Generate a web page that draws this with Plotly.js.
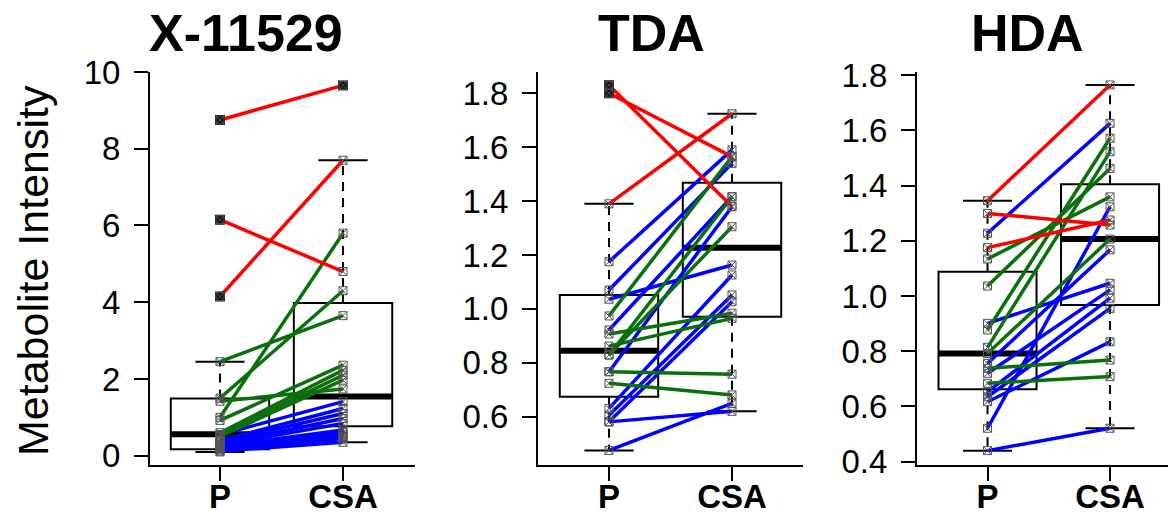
<!DOCTYPE html>
<html><head><meta charset="utf-8">
<script src="https://cdn.plot.ly/plotly-3.0.1.min.js"></script>
<style>html,body{margin:0;padding:0;background:#fff;overflow:hidden}</style>
</head><body><div id="chart" style="width:1168px;height:515px"></div>
<script>
// ---------- data ----------
const categories = ['P', 'CSA'];
const panelTitles = ['X-11529', 'TDA', 'HDA'];
const yAxisLabel = 'Metabolite Intensity';

// X-11529 paired values (P -> CSA) and group colour per subject
const x11529_P     = [8.75, 6.15, 4.15, 2.45, 1.50, 1.42, 1.00, 0.92, 0.60, 0.55, 0.50, 0.55, 0.40, 0.35, 0.30, 0.28, 0.25, 0.20, 0.18, 0.15, 0.12, 0.10];
const x11529_CSA   = [9.65, 4.80, 7.70, 3.65, 4.30, 1.74, 5.80, 2.36, 2.23, 2.10, 1.97, 1.41, 1.23, 1.10, 0.97, 0.84, 0.67, 0.60, 0.54, 0.45, 0.35, 0.50];
const x11529_group = ['red','red','red','green','green','green','green','green','green','green','green','blue','blue','blue','blue','blue','blue','blue','blue','blue','blue','blue'];
const x11529_q1 = [0.17, 0.77];
const x11529_median = [0.56, 1.54];
const x11529_q3 = [1.49, 3.98];
const x11529_lowerWhisker = [0.10, 0.35];
const x11529_upperWhisker = [2.45, 7.70];

// TDA
const tda_P     = [1.83, 1.80, 1.39, 1.175, 1.07, 1.036, 0.922, 0.767, 0.631, 0.606, 0.581, 0.581, 0.475, 0.974, 0.907, 0.862, 0.829, 0.829, 0.767, 0.724];
const tda_CSA   = [1.38, 1.565, 1.724, 1.59, 1.54, 1.163, 1.416, 1.379, 1.126, 1.052, 1.027, 0.62, 0.65, 1.565, 0.984, 0.965, 1.305, 1.416, 0.758, 0.681];
const tda_group = ['red','red','red','blue','blue','blue','blue','blue','blue','blue','blue','blue','blue','green','green','green','green','green','green','green'];
const tda_q1 = [0.674, 0.971];
const tda_median = [0.845, 1.227];
const tda_q3 = [1.052, 1.468];
const tda_lowerWhisker = [0.475, 0.62];
const tda_upperWhisker = [1.39, 1.724];

// HDA
const hda_P     = [1.345, 1.299, 1.175, 1.227, 0.901, 0.756, 0.720, 0.653, 0.635, 0.617, 0.521, 0.44, 1.134, 1.036, 0.877, 0.814, 0.792, 0.738, 0.684];
const hda_CSA   = [1.764, 1.257, 1.275, 1.625, 1.046, 1.167, 1.022, 0.992, 0.955, 0.834, 1.323, 0.521, 1.359, 1.462, 1.571, 1.522, 1.206, 0.768, 0.708];
const hda_group = ['red','red','red','blue','blue','blue','blue','blue','blue','blue','blue','blue','green','green','green','green','green','green','green'];
const hda_q1 = [0.662, 0.967];
const hda_median = [0.792, 1.206];
const hda_q3 = [1.088, 1.405];
const hda_lowerWhisker = [0.44, 0.521];
const hda_upperWhisker = [1.345, 1.764];

const yTicks1 = [0, 2, 4, 6, 8, 10];
const yTicks2 = [0.6, 0.8, 1.0, 1.2, 1.4, 1.6, 1.8];
const yTicks3 = [0.4, 0.6, 0.8, 1.0, 1.2, 1.4, 1.6, 1.8];

// ---------- styling ----------
const W = 1168, H = 515;
const lineColors = { red: '#ff0000', green: '#0a700a', blue: '#0000ff' };
const drawOrder = ['blue', 'green', 'red'];
const FONT = 'Liberation Sans, Arial, Helvetica, sans-serif';
const POS = [1, 2];
const BOXW = 0.8, CAPW = 0.4;

const panels = [
  { P: x11529_P, C: x11529_CSA, g: x11529_group, q1: x11529_q1, med: x11529_median, q3: x11529_q3, lw: x11529_lowerWhisker, uw: x11529_upperWhisker,
    px: [150, 415], xr: [0.431, 2.585], yr: [-0.242, 10.0], ticks: yTicks1, fmt: 'd', tx: 246 },
  { P: tda_P, C: tda_CSA, g: tda_group, q1: tda_q1, med: tda_median, q3: tda_q3, lw: tda_lowerWhisker, uw: tda_upperWhisker,
    px: [538, 803], xr: [0.423, 2.577], yr: [0.421, 1.879], ticks: yTicks2, fmt: '.1f', tx: 651 },
  { P: hda_P, C: hda_CSA, g: hda_group, q1: hda_q1, med: hda_median, q3: hda_q3, lw: hda_lowerWhisker, uw: hda_upperWhisker,
    px: [917, 1168], xr: [0.4245, 2.473], yr: [0.388, 1.811], ticks: yTicks3, fmt: '.1f', tx: 1027 }
];

const traces = [];
const layout = {
  width: W, height: H, margin: { l: 0, r: 0, t: 72, b: 50 },
  paper_bgcolor: '#fff', plot_bgcolor: 'rgba(0,0,0,0)', showlegend: false,
  font: { family: FONT, color: '#000' },
  annotations: []
};

panels.forEach((p, i) => {
  const n = i + 1;
  const xa = 'x' + (n === 1 ? '' : n), ya = 'y' + (n === 1 ? '' : n);
  const axX = 'xaxis' + (n === 1 ? '' : n), axY = 'yaxis' + (n === 1 ? '' : n);

  // box body
  traces.push({
    type: 'box', x: POS, q1: p.q1, median: p.med, q3: p.q3, lowerfence: p.q1, upperfence: p.q3,
    width: BOXW, whiskerwidth: 0, boxpoints: false, line: { color: '#000', width: 2 },
    fillcolor: 'rgba(255,255,255,0)', xaxis: xa, yaxis: ya, hoverinfo: 'skip'
  });
  // whiskers (dashed), caps, thick median
  const wx = [], wy = [], cx = [], cy = [], mx = [], my = [];
  POS.forEach((x, k) => {
    wx.push(x, x, null, x, x, null); wy.push(p.q3[k], p.uw[k], null, p.q1[k], p.lw[k], null);
    cx.push(x - CAPW / 2, x + CAPW / 2, null, x - CAPW / 2, x + CAPW / 2, null); cy.push(p.uw[k], p.uw[k], null, p.lw[k], p.lw[k], null);
    mx.push(x - BOXW / 2, x + BOXW / 2, null); my.push(p.med[k], p.med[k], null);
  });
  traces.push({ type: 'scatter', mode: 'lines', x: wx, y: wy, line: { color: '#000', width: 2, dash: '9px,7px' }, xaxis: xa, yaxis: ya, hoverinfo: 'skip' });
  traces.push({ type: 'scatter', mode: 'lines', x: cx, y: cy, line: { color: '#000', width: 2 }, xaxis: xa, yaxis: ya, hoverinfo: 'skip' });
  traces.push({ type: 'scatter', mode: 'lines', x: mx, y: my, line: { color: '#000', width: 6 }, xaxis: xa, yaxis: ya, hoverinfo: 'skip' });

  // paired lines per group
  drawOrder.forEach(col => {
    const lx = [], ly = [];
    p.g.forEach((g, k) => { if (g === col) { lx.push(1, 2, null); ly.push(p.P[k], p.C[k], null); } });
    traces.push({ type: 'scatter', mode: 'lines', x: lx, y: ly, line: { color: lineColors[col], width: 3.5 }, xaxis: xa, yaxis: ya, hoverinfo: 'skip' });
  });

  // outliers (beyond whiskers) as filled black squares
  const ox = [], oy = [];
  p.P.forEach(v => { if (v > p.uw[0] + 1e-9 || v < p.lw[0] - 1e-9) { ox.push(1); oy.push(v); } });
  p.C.forEach(v => { if (v > p.uw[1] + 1e-9 || v < p.lw[1] - 1e-9) { ox.push(2); oy.push(v); } });
  traces.push({ type: 'scatter', mode: 'markers', x: ox, y: oy, marker: { symbol: 'square', size: 10, color: '#111' }, xaxis: xa, yaxis: ya, hoverinfo: 'skip', cliponaxis: false });

  // all points as boxed-x markers
  const ax = [], ay = [];
  p.P.forEach(v => { ax.push(1); ay.push(v); });
  p.C.forEach(v => { ax.push(2); ay.push(v); });
  traces.push({ type: 'scatter', mode: 'markers', x: ax, y: ay,
    marker: { symbol: 'square-x-open', size: 8, color: '#555', line: { width: 1, color: '#555' } },
    xaxis: xa, yaxis: ya, hoverinfo: 'skip', cliponaxis: false });

  const common = {
    showline: true, linecolor: '#000', linewidth: 2, ticks: 'outside', ticklen: 14, tickwidth: 2, tickcolor: '#000',
    showgrid: false, zeroline: false, fixedrange: true
  };
  layout[axX] = Object.assign({}, common, {
    domain: [p.px[0] / W, p.px[1] / W], range: p.xr, anchor: ya,
    tickmode: 'array', tickvals: POS, ticktext: categories, ticklabelstandoff: -13,
    tickfont: { family: FONT, size: 33, color: '#000', weight: 'bold' }
  });
  layout[axY] = Object.assign({}, common, {
    domain: [0, 1], range: p.yr, anchor: xa,
    tickmode: 'array', tickvals: p.ticks, tickformat: p.fmt, ticklabelstandoff: 7,
    tickfont: { family: FONT, size: 33, color: '#000' }
  });

  layout.annotations.push({
    text: panelTitles[i], xref: 'paper', yref: 'paper', x: p.tx / W, y: (465 - 33) / 393,
    xanchor: 'center', yanchor: 'middle', showarrow: false,
    font: { family: FONT, size: 52, color: '#000', weight: 'bold' }
  });
});

layout.annotations.push({
  text: yAxisLabel, xref: 'paper', yref: 'paper', x: 33 / W, y: (465 - 271) / 393,
  xanchor: 'center', yanchor: 'middle', textangle: -90, showarrow: false,
  font: { family: FONT, size: 43, color: '#000' }
});

Plotly.newPlot('chart', traces, layout, { staticPlot: true, displayModeBar: false });
</script>
</body></html>
